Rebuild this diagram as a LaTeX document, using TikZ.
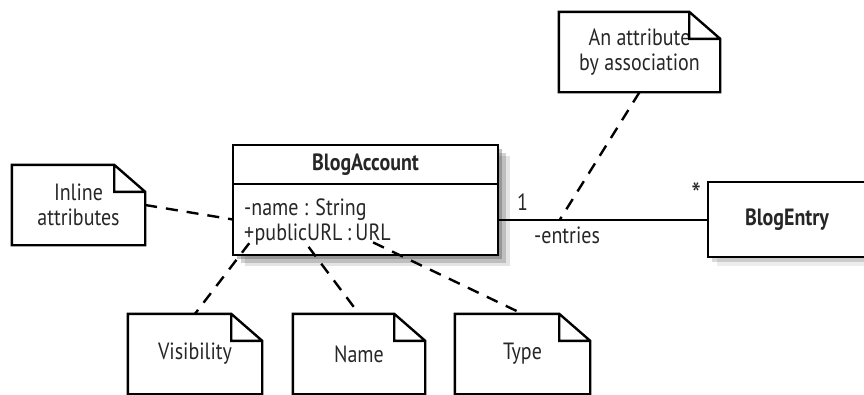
\documentclass[tikz,border=0pt]{standalone}
\usepackage{fontspec}
\setmainfont{PT Sans}[FakeStretch=0.85]
\usetikzlibrary{positioning, shadows}

\newcommand{\umlfont}{\fontsize{23.5}{25}\selectfont}

\tikzset{
  classbox/.style={draw, line width=2.4pt, fill=white, inner sep=0pt, outer sep=0pt},
  classname/.style={font=\umlfont\bfseries},
  notebox/.style={minimum height=80pt, inner sep=0pt, align=center},
  noteline/.style={line width=2.4pt, line join=miter},
  attr/.style={inner sep=0pt},
  link/.style={line width=2.4pt, dash pattern=on 12pt off 9pt},
  softshadow/.style={
    drop shadow={shadow xshift=4pt, shadow yshift=-4pt, opacity=.35, fill=black!70},
    drop shadow={shadow xshift=8pt, shadow yshift=-8pt, opacity=.25, fill=black!70},
    drop shadow={shadow xshift=12pt, shadow yshift=-11pt, opacity=.15, fill=black!70}},
  lightshadow/.style={
    drop shadow={shadow xshift=4pt, shadow yshift=-5pt, opacity=.2, fill=black!70},
    drop shadow={shadow xshift=9pt, shadow yshift=-9pt, opacity=.1, fill=black!70}}
}

\begin{document}
\begin{tikzpicture}[x=1pt, y=-1pt, font=\umlfont, text=black!85]
  \useasboundingbox (0,0) rectangle (864,394);
  %classi
  \node[classbox, classname, minimum width=265pt, minimum height=39pt, softshadow] (acct) at (365.5,164.5) {BlogAccount};
  \node[classbox, minimum width=265pt, minimum height=71pt, anchor=north, softshadow] (attrs) at (acct.south) {};
  \node[classbox, classname, minimum width=158pt, minimum height=75pt, lightshadow] (entry) at (787,219.5) {BlogEntry};
  %attributi
  \node[attr, anchor=base west] (aname) at (244,215) {-name : String};
  \node[attr, anchor=base west] (plus) at (244,240) {+};
  \node[attr, anchor=base west] (purl) at (plus.base east) {publicURL};
  \node[attr, anchor=base west] (colon) at (purl.base east) {\,:\,};
  \node[attr, anchor=base west] (ptype) at (colon.base east) {URL};
  %associazione
  \draw[line width=2pt] (attrs.east) -- (entry.west) coordinate[pos=.295] (assocpt);
  \node[attr, above right=9pt and 19pt of attrs.east] (one) {1};
  \node[attr, above left=14pt and 7pt of entry.west, font=\fontsize{32}{32}\selectfont] (many) {*};
  \node[attr, below right=7pt and 36pt of attrs.east] (role) {-entries};
  %note
  \node[notebox, minimum width=133pt] (inl) at (78.5,205) {Inline\\attributes};
  \node[notebox, minimum width=161pt] (assoc) at (639.5,52) {An attribute\\by association};
  \node[notebox, minimum width=134pt] (vis) at (195,354) {Visibility};
  \node[notebox, minimum width=132pt] (nam) at (359,354) {Name};
  \node[notebox, minimum width=135pt] (typ) at (522.5,354) {Type};
  \foreach \n in {inl,assoc,vis,nam,typ}
    \draw[noteline] (\n.south west) -- (\n.north west) -- ([xshift=-31pt]\n.north east)
      -- ([yshift=-27pt]\n.north east) -- (\n.south east) -- cycle
      ([xshift=-31pt]\n.north east) |- ([yshift=-27pt]\n.north east);
  %collegamenti tratteggiati
  \draw[link] (inl.east) -- (attrs.west);
  \draw[link] (assoc.south) -- (assocpt);
  \draw[link] ([yshift=-3pt]plus.south) -- (vis.north);
  \draw[link] ([xshift=10pt, yshift=-2pt]purl.south) -- (nam.north);
  \draw[link] ([yshift=-2pt]ptype.south) -- (typ.north);
\end{tikzpicture}
\end{document}
